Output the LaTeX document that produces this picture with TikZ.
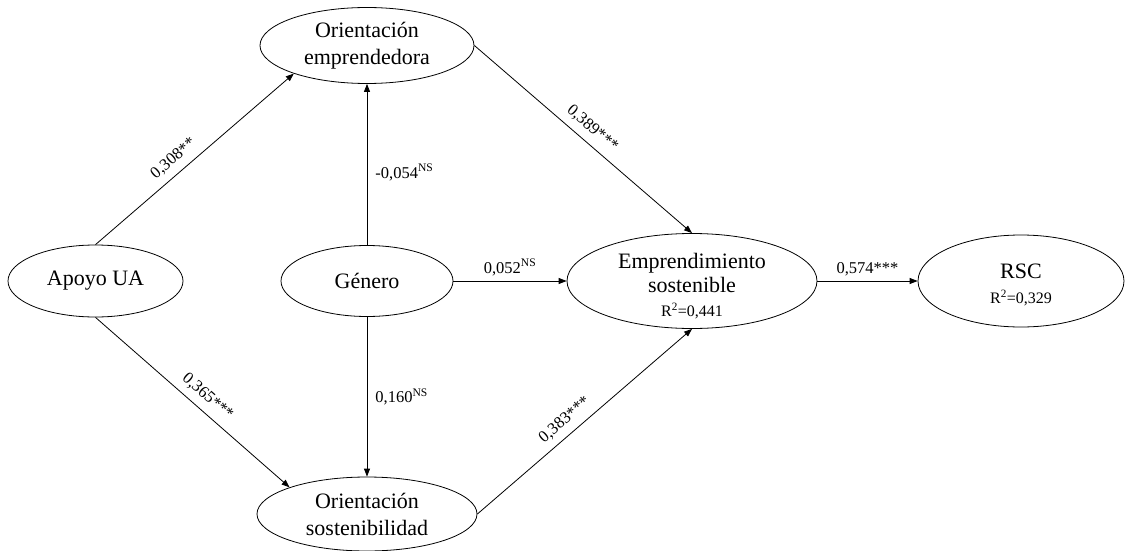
\documentclass[tikz,border=0pt]{standalone}
\usepackage{fontspec}
\setmainfont{Liberation Serif}
\usetikzlibrary{shapes.geometric,arrows.meta}
\begin{document}
\begin{tikzpicture}[x=1pt,y=-1pt,
  ell/.style={ellipse,draw,line width=0.8pt,inner sep=0pt},
  big/.style={font=\fontsize{22}{27}\selectfont,align=center,inner sep=0pt},
  lab/.style={font=\fontsize{16.5}{19}\selectfont,inner sep=2pt},
  arr/.style={-{Triangle[length=8pt,width=6pt]},line width=0.8pt},
]
\useasboundingbox (0,0) rectangle (1127,551);
\node[ell,minimum width=175pt,minimum height=72pt,label={[big]center:Apoyo UA}] (apoyo) at (95.5,281) {};
\node[ell,minimum width=214pt,minimum height=76pt,label={[big]center:{Orientación\\emprendedora}}] (oemp) at (367,45.5) {};
\node[ell,minimum width=172pt,minimum height=71pt,label={[big]center:Género}] (gen) at (367,281) {};
\node[ell,minimum width=250pt,minimum height=95pt,label={[big,font=\fontsize{22}{24}\selectfont,yshift=-5pt]center:{Emprendimiento\\sostenible\\{\fontsize{16}{19}\selectfont R\textsuperscript{2}=0,441}}}] (emp) at (692,281) {};
\node[ell,minimum width=206pt,minimum height=92pt,label={[big,font=\fontsize{22}{25}\selectfont,yshift=-4pt]center:{RSC\\{\fontsize{16}{19}\selectfont R\textsuperscript{2}=0,329}}}] (rsc) at (1021,281) {};
\node[ell,minimum width=220pt,minimum height=74pt,label={[big]center:{Orientación\\sostenibilidad}}] (osost) at (367,514) {};

\draw[arr] (apoyo.north) -- node[lab,sloped,above=5pt,pos=0.44] {0,308**} (oemp.201);
\draw[arr] (apoyo.south) -- node[lab,sloped,above=5pt,pos=0.53] {0,365***} (osost.161);
\draw[arr] (gen.north) -- node[lab,right=6pt,pos=0.45] {-0,054\textsuperscript{NS}} (oemp.south);
\draw[arr] (gen.south) -- node[lab,right=6pt,pos=0.5] {0,160\textsuperscript{NS}} (osost.north);
\draw[arr] (gen.east) -- node[lab,above=3pt] {0,052\textsuperscript{NS}} (emp.west);
\draw[arr] (oemp.east) -- node[lab,sloped,above=5pt,pos=0.5] {0,389***} (emp.north);
\draw[arr] (osost.east) -- node[lab,sloped,above=5pt,pos=0.45] {0,383***} (emp.south);
\draw[arr] (emp.east) -- node[lab,above=3pt] {0,574***} (rsc.west);
\end{tikzpicture}
\end{document}
